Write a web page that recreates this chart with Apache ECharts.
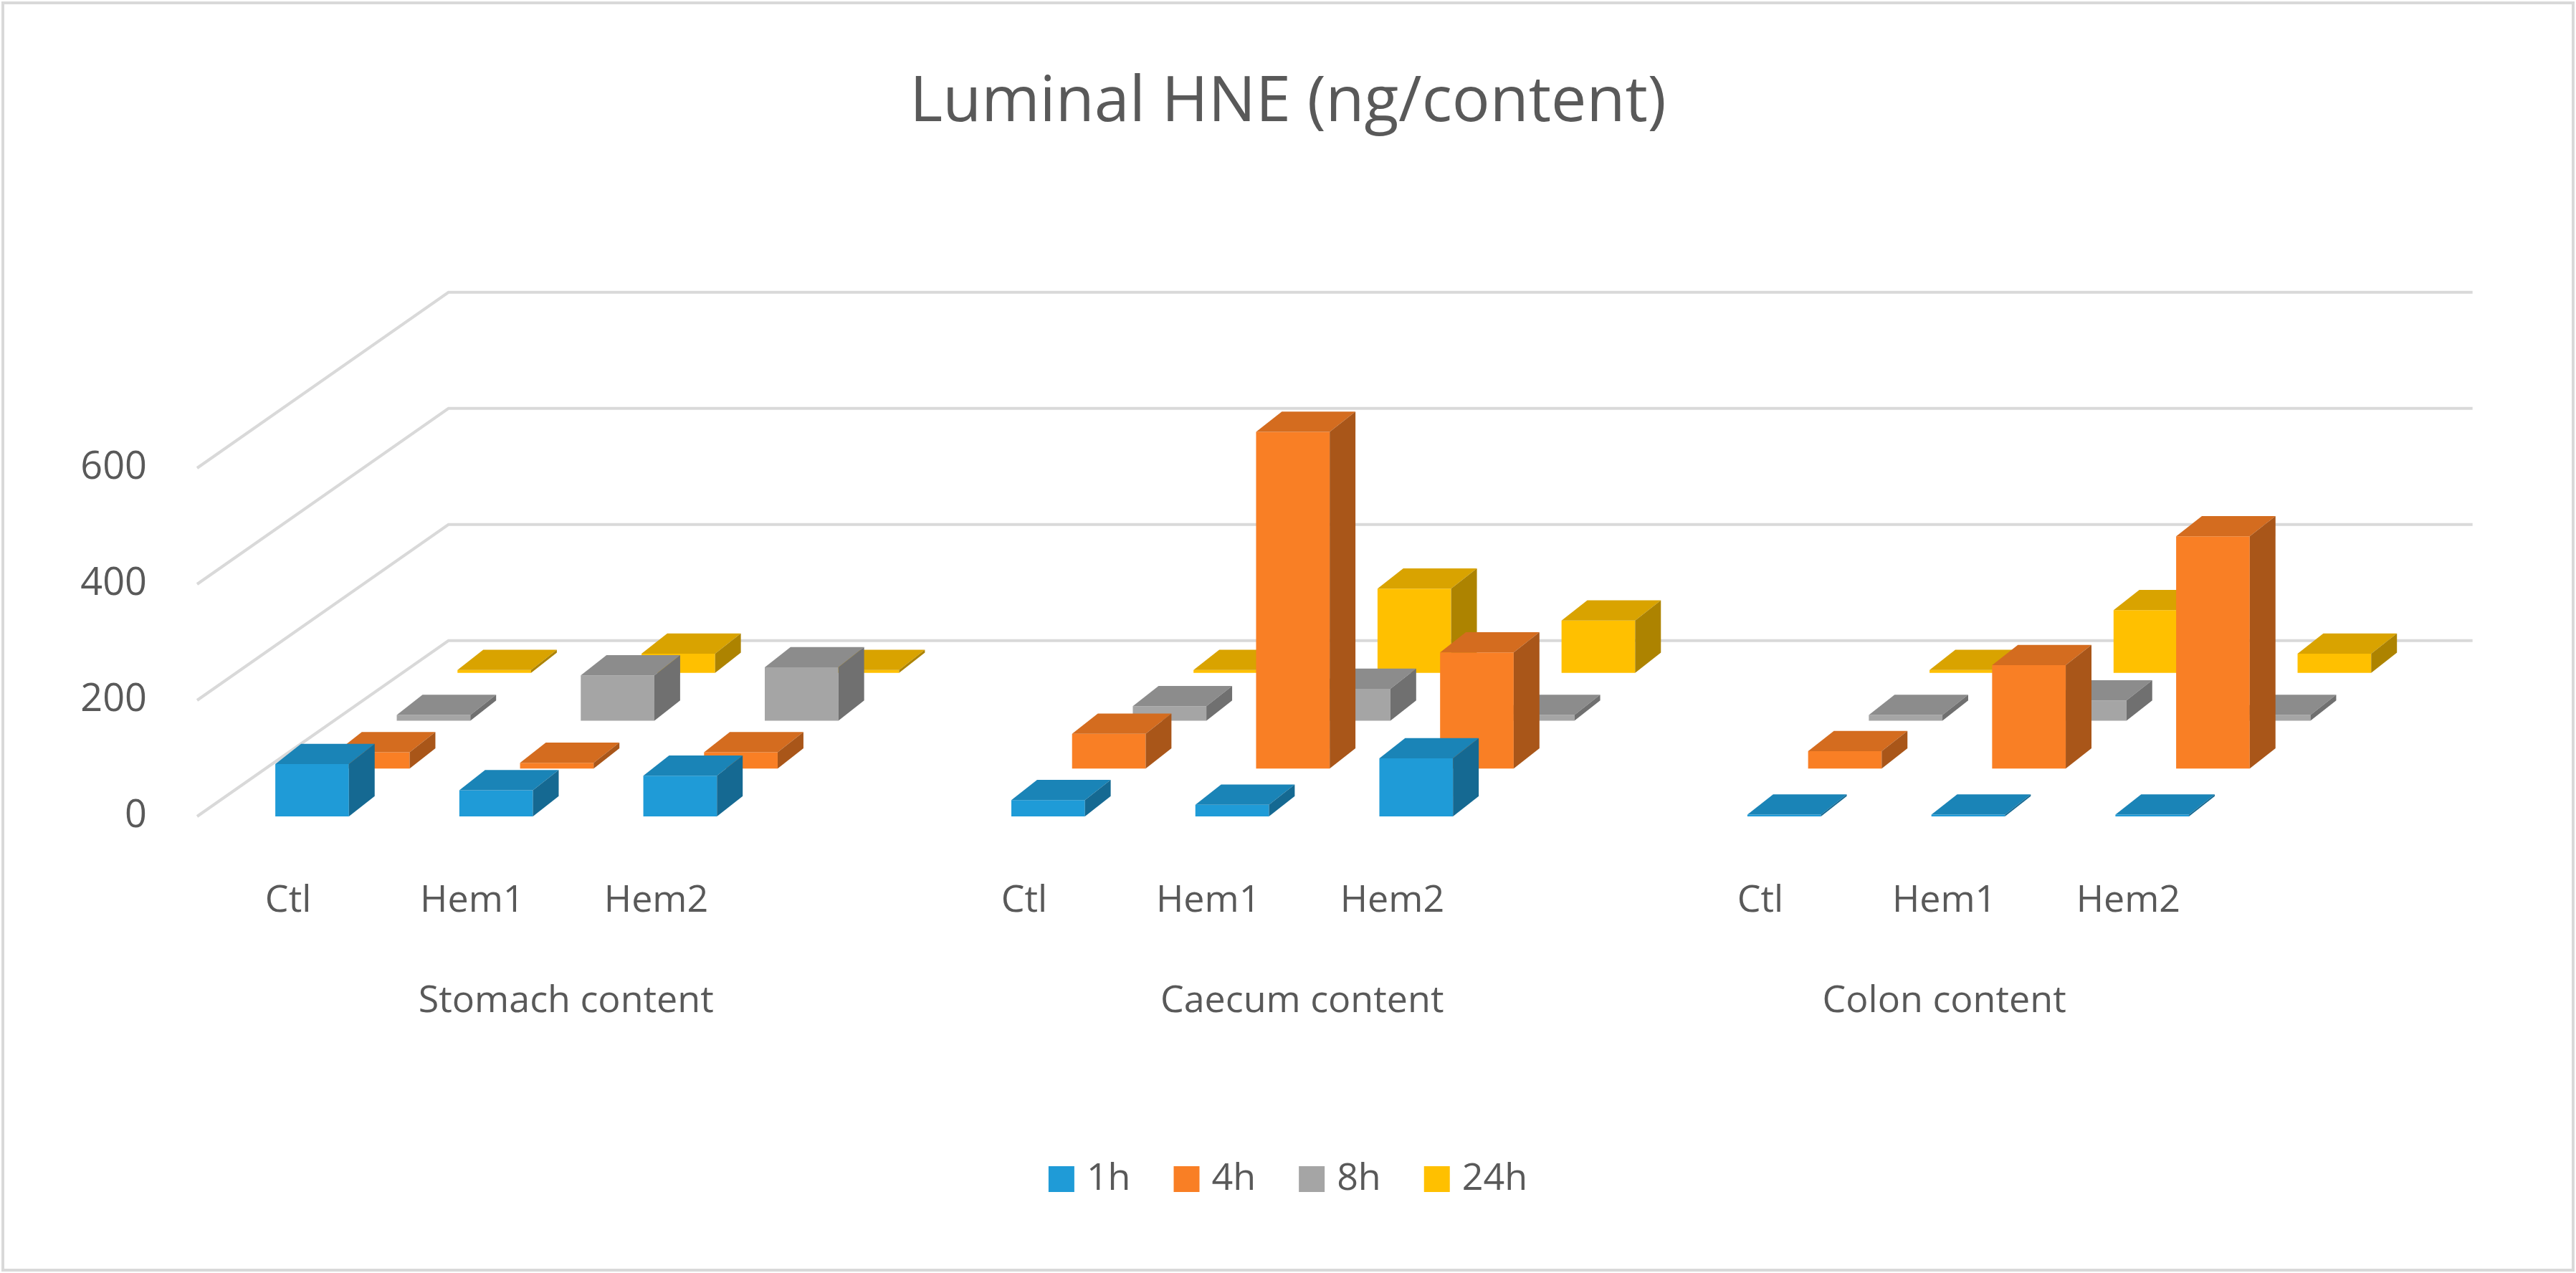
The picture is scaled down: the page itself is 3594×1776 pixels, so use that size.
<!DOCTYPE html>
<html>
<head>
<meta charset="utf-8">
<script src="https://cdn.jsdelivr.net/npm/echarts@6/dist/echarts.min.js"></script>
<style>html,body{margin:0;padding:0;background:#fff;}#chart{width:3594px;height:1776px;}</style>
</head>
<body>
<div id="chart"></div>
<script>
// categories / tick labels
var groups      = ['Stomach content','Caecum content','Colon content'];
var categories  = ['Ctl','Hem1','Hem2','Ctl','Hem1','Hem2','Ctl','Hem1','Hem2'];
var slots       = [0,1,2,4,5,6,8,9,10];
var groupSlots  = [1.38,5.38,8.87];
var yTicks      = [0,200,400,600];
var hours       = ['1h','4h','8h','24h'];
var colors      = ['#1f9bd7','#f97f25','#a5a5a5','#ffc000'];
// series values (ng/content), order: Stomach Ctl/Hem1/Hem2, Caecum..., Colon...
var h1  = [90, 45, 70, 28, 20, 100, 3, 3, 3];
var h4  = [28, 10, 28, 60, 580, 200, 30, 178, 400];
var h8  = [10, 78, 92, 25, 55, 10, 10, 35, 10];
var h24 = [5, 33, 5, 5, 145, 90, 5, 108, 33];
var values = [h1,h4,h8,h24];

var XMIN = -0.625, XMAX = 10.375;
var ROWX = 0.33, ROWY = 0.26;
var textColor = '#595959';
var font = 'Open Sans';

function shade(hex,f){
    var n = parseInt(hex.slice(1),16);
    var r = (n>>16)&255, g = (n>>8)&255, b = n&255;
    function c(v){ return Math.max(0,Math.min(255,Math.round(f>1 ? v+(255-v)*(f-1) : v*f))); }
    return 'rgb('+c(r)+','+c(g)+','+c(b)+')';
}

function barRender(row,color){
    return function(params,api){
        var x = api.value(0), v = api.value(1);
        var slot = api.size([1,0])[0];
        var dx = row*ROWX*slot, dy = -row*ROWY*slot;
        var w = 0.4*slot, ddx = 0.14*slot, ddy = -0.11*slot;
        var p0 = api.coord([x,0]), p1 = api.coord([x,v]);
        var l = p0[0]-w/2+dx, b = p0[1]+dy, t = p1[1]+dy;
        return {type:'group',children:[
            {type:'polygon',shape:{points:[[l,t],[l+w,t],[l+w,b],[l,b]]},style:{fill:color}},
            {type:'polygon',shape:{points:[[l,t],[l+w,t],[l+w+ddx,t+ddy],[l+ddx,t+ddy]]},style:{fill:shade(color,0.85)}},
            {type:'polygon',shape:{points:[[l+w,t],[l+w+ddx,t+ddy],[l+w+ddx,b+ddy],[l+w,b]]},style:{fill:shade(color,0.68)}}
        ]};
    };
}

function gridRender(params,api){
    var v = api.value(0);
    var slot = api.size([1,0])[0];
    var ox = 1.366*slot, oy = -0.955*slot;
    var a = api.coord([XMIN,v]), e = api.coord([XMAX,v]);
    return {type:'polyline',shape:{points:[a,[a[0]+ox,a[1]+oy],[e[0]+ox,e[1]+oy]]},
        style:{stroke:'#d9d9d9',lineWidth:4,fill:null}};
}

function textRender(list,shift,yOff){
    return function(params,api){
        var p = api.coord([api.value(0),0]);
        return {type:'text',style:{text:list[params.dataIndex],x:p[0]+shift*api.size([1,0])[0],y:p[1]+yOff,
            align:'center',verticalAlign:'middle',fill:textColor,font:'52px '+font}};
    };
}

var series = [{
    type:'custom',renderItem:gridRender,data:yTicks.map(function(t){return [t];}),
    encode:{x:-1,y:0},z:1,silent:true
},{
    type:'custom',renderItem:textRender(categories,-0.13,118),data:slots.map(function(s){return [s,0];}),z:1,silent:true
},{
    type:'custom',renderItem:textRender(groups,0,258),data:groupSlots.map(function(s){return [s,0];}),z:1,silent:true
}];
for(var r=3;r>=0;r--){
    series.push({
        name:hours[r],type:'custom',renderItem:barRender(r,colors[r]),
        itemStyle:{color:colors[r]},z:10+(3-r),
        data:slots.map(function(s,i){return [s,values[r][i]];})
    });
}

var chart = echarts.init(document.getElementById('chart'));
chart.setOption({
    animation:false,
    backgroundColor:'#fff',
    title:{text:'Luminal HNE (ng/content)',left:'center',top:95,
        textStyle:{color:textColor,fontFamily:font,fontSize:88,fontWeight:'normal'}},
    grid:{left:275,right:495,top:653,bottom:637},
    xAxis:{type:'value',min:XMIN,max:XMAX,show:false},
    yAxis:{type:'value',min:0,max:600,interval:200,
        axisLine:{show:false},axisTick:{show:false},splitLine:{show:false},
        axisLabel:{color:textColor,fontFamily:font,fontSize:54,margin:70}},
    legend:{data:hours,bottom:100,left:'center',itemWidth:36,itemHeight:36,itemGap:60,icon:'rect',
        textStyle:{color:textColor,fontFamily:font,fontSize:52,padding:[0,0,0,12]}},
    graphic:[{type:'rect',shape:{x:4,y:4,width:3586,height:1768},style:{fill:null,stroke:'#d9d9d9',lineWidth:4},silent:true}],
    series:series
});
</script>
</body>
</html>
